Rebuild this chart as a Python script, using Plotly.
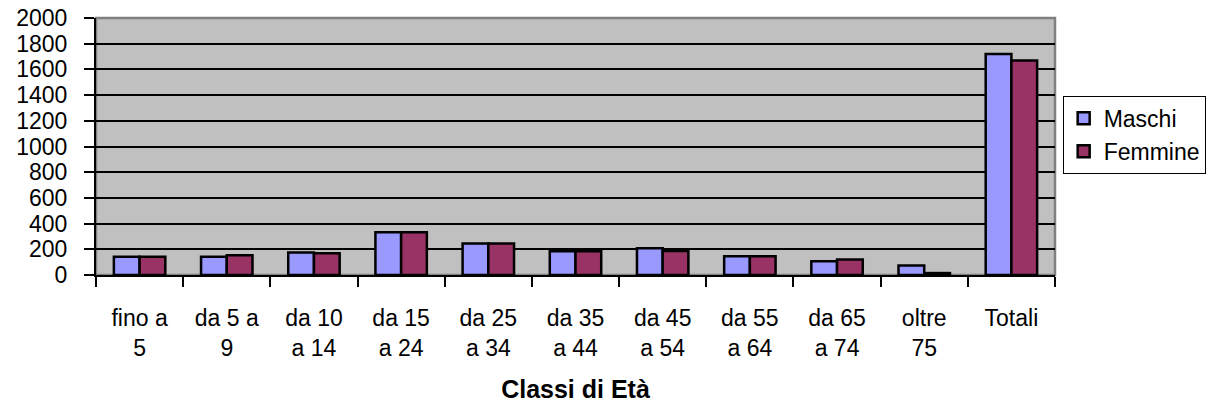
import plotly.graph_objects as go

# Classi di età (etichette su due righe come nell'originale)
categorie = [
    "fino a<br>5", "da 5 a<br>9", "da 10<br>a 14", "da 15<br>a 24", "da 25<br>a 34",
    "da 35<br>a 44", "da 45<br>a 54", "da 55<br>a 64", "da 65<br>a 74", "oltre<br>75", "Totali",
]
maschi   = [142, 142, 176, 332, 246, 185, 208, 145, 107, 73, 1720]
femmine  = [142, 153, 169, 332, 246, 185, 187, 145, 121, 15, 1670]
y_ticks  = list(range(0, 2001, 200))

_FONT = "Liberation Sans, Arial, sans-serif"
_COLOR_M = "#9999FF"
_COLOR_F = "#993366"

fig = go.Figure()
for name, values, color in [("Maschi", maschi, _COLOR_M), ("Femmine", femmine, _COLOR_F)]:
    fig.add_trace(
        go.Bar(
            x=categorie,
            y=values,
            name=name,
            marker=dict(color=color, line=dict(color="black", width=2.5)),
        )
    )

fig.update_layout(
    width=1215,
    height=407,
    barmode="group",
    bargap=0.41,
    bargroupgap=0,
    paper_bgcolor="white",
    plot_bgcolor="#C0C0C0",
    font=dict(family=_FONT, size=23, color="black"),
    margin=dict(l=96, r=160, t=18, b=132, autoexpand=False),
    showlegend=True,
    legend=dict(
        x=1.008, y=0.697, xanchor="left", yanchor="top",
        bgcolor="white", bordercolor="black", borderwidth=1,
        font=dict(size=23), tracegroupgap=0, itemwidth=30,
    ),
    xaxis=dict(
        type="category",
        automargin=False,
        showline=True, linecolor="black", linewidth=2,
        ticks="outside", tickson="boundaries", ticklen=10, tickcolor="black", tickwidth=1.5,
        ticklabelstandoff=21,
        showgrid=False,
        title=dict(text="<b>Classi di Età</b>", font=dict(size=25), standoff=21),
    ),
    yaxis=dict(
        range=[0, 2000],
        tickvals=y_ticks,
        automargin=False,
        showline=True, linecolor="black", linewidth=2,
        ticks="outside", ticklen=10, tickcolor="black", tickwidth=1.5,
        ticklabelstandoff=12,
        showgrid=True, gridcolor="black", gridwidth=1.5,
        zeroline=False,
    ),
    shapes=[
        dict(type="rect", xref="paper", yref="paper", x0=0, x1=1, y0=0, y1=1,
             line=dict(color="#808080", width=2.5), layer="below"),
    ],
)

# togli il margine di default del body, così il grafico parte da (0, 0)
fig.write_html(
    "out.html",
    config={"displayModeBar": False},
    post_script="document.body.style.margin = '0';",
)
